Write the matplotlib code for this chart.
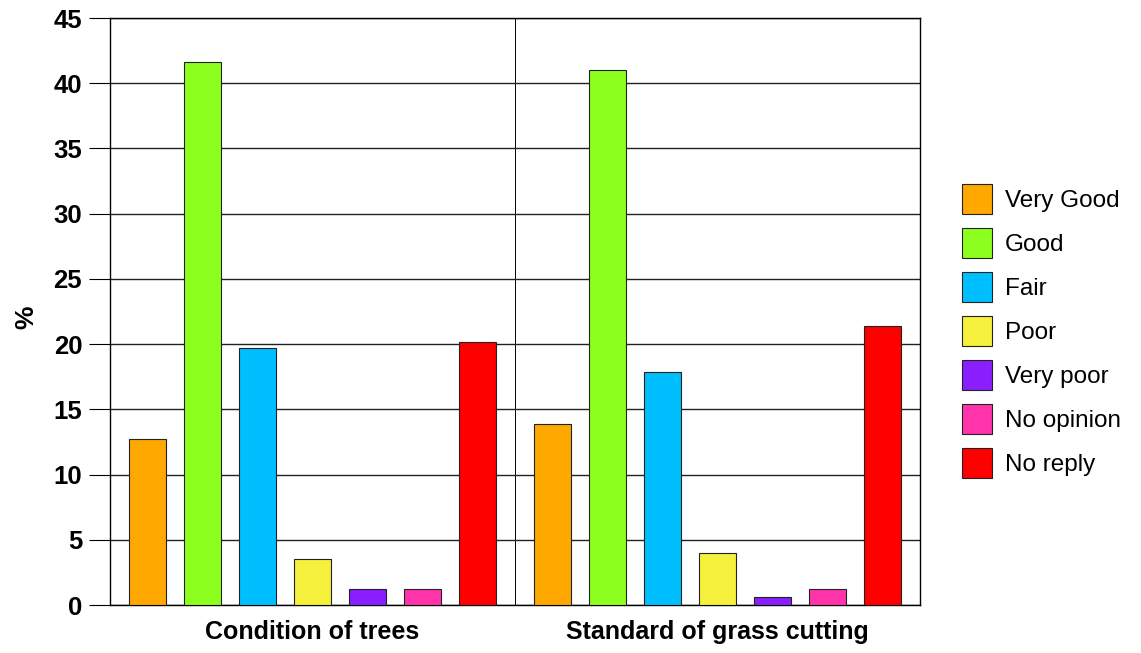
import matplotlib.pyplot as plt
import numpy as np

plt.rcParams['font.family'] = ['Liberation Sans', 'DejaVu Sans']

groups = ['Condition of trees', 'Standard of grass cutting']
categories = ['Very Good', 'Good', 'Fair', 'Poor', 'Very poor', 'No opinion', 'No reply']
trees = [12.7, 41.6, 19.7, 3.5, 1.2, 1.2, 20.2]
grass = [13.9, 41.0, 17.9, 4.0, 0.6, 1.2, 21.4]
colors = ['#FFA800', '#8CFF1E', '#00BFFF', '#F5F03C', '#8A1EFF', '#FF33AA', '#FF0000']

fig = plt.figure(figsize=(11.41, 6.53), dpi=100)
ax = fig.add_axes([0.0964, 0.0735, 0.7099, 0.8989])

pitch = 55 / 405
width = 37 / 405
values = np.array([trees, grass])
for k, cat in enumerate(categories):
    xs = np.arange(len(groups)) + 0.5 + (k - 3) * pitch
    ax.bar(xs, values[:, k], width=width, color=colors[k], edgecolor='#222222',
           linewidth=0.8, label=cat, zorder=3)

ax.set_xlim(0, 2)
ax.set_ylim(0, 45)
ax.set_yticks(range(0, 46, 5))
ax.yaxis.grid(True, color='#222222', linewidth=1.0, zorder=0)
ax.axvline(1, color='black', linewidth=0.7, zorder=1)
ax.set_xticks([0.5, 1.5])
ax.set_xticklabels(groups, fontsize=18, fontweight='bold')
ax.tick_params(axis='x', length=0, pad=11)
ax.tick_params(axis='y', length=15, width=0.8, labelsize=18.5, pad=5)
for lbl in ax.get_yticklabels():
    lbl.set_fontweight('bold')
ax.set_ylabel('%', fontsize=19, fontweight='bold')
ax.yaxis.set_label_coords(-0.089, 0.49)
for s in ax.spines.values():
    s.set_linewidth(1.0)

ax.legend(loc='center left', bbox_to_anchor=(1.0248, 0.467), frameon=False,
          fontsize=17.5, handlelength=1.23, handleheight=1.52, labelspacing=0.58,
          handletextpad=0.55)

fig.savefig('out.png', dpi=100)
